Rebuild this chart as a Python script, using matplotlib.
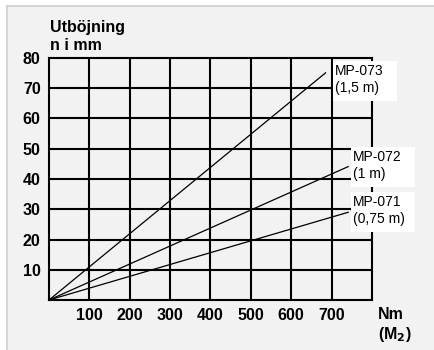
import matplotlib.pyplot as plt
from matplotlib.patches import Rectangle
from matplotlib.lines import Line2D

plt.rcParams['font.family'] = ['Liberation Sans', 'DejaVu Sans']

# data: torque (Nm) -> deflection (mm), straight lines from 0
models = ['MP-071', 'MP-072', 'MP-073']
lengths = ['(0,75 m)', '(1 m)', '(1,5 m)']
end_nm = [741, 741, 685]
end_mm = [29.0, 44.1, 75.1]
xticks = [100, 200, 300, 400, 500, 600, 700]
yticks = [10, 20, 30, 40, 50, 60, 70, 80]

W, H = 435, 350
fig = plt.figure(figsize=(W / 100, H / 100), dpi=100)
fig.patch.set_facecolor('white')

# light gray panel with a thin border on top and left
fig.patches.append(Rectangle((7 / W, 0), 1, 1 - 6 / H, transform=fig.transFigure,
                             facecolor='#f2f2f2', edgecolor='none', zorder=-2))
fig.lines.append(Line2D([7 / W, 1], [1 - 6 / H, 1 - 6 / H], transform=fig.transFigure,
                        color='#cfcfcf', lw=1.2, zorder=-1))
fig.lines.append(Line2D([7 / W, 7 / W], [0, 1 - 6 / H], transform=fig.transFigure,
                        color='#cfcfcf', lw=1.2, zorder=-1))

ax = fig.add_axes([49 / W, 50 / H, (372 - 49) / W, (300 - 58) / H])
ax.set_zorder(1)
ax.set_facecolor('none')
ax.set_xlim(0, 800)
ax.set_ylim(0, 80)

for x in range(100, 800, 100):
    ax.axvline(x, color='black', lw=1.5, zorder=1)
for y in range(10, 80, 10):
    ax.axhline(y, color='black', lw=1.5, zorder=1)
for s in ax.spines.values():
    s.set_linewidth(1.5)

ax.set_xticks(xticks)
ax.set_yticks(yticks)
ax.tick_params(length=0, labelsize=11.5, pad=6)
for lab in ax.get_xticklabels() + ax.get_yticklabels():
    lab.set_fontweight('bold')

for m, l, xe, ye in zip(models, lengths, end_nm, end_mm):
    ax.plot([0, xe], [0, ye], color='black', lw=0.9, zorder=2)

# label boxes
boxes = {'MP-073': (333, 61), 'MP-072': (351, 147), 'MP-071': (351, 192)}
for m, l in zip(models, lengths):
    bx, by = boxes[m]
    fig.patches.append(Rectangle((bx / W, 1 - (by + 40) / H), 64 / W, 40 / H,
                                 transform=fig.transFigure, facecolor='white',
                                 edgecolor='none', zorder=5))
    fig.text((bx + 2) / W, 1 - (by + 14) / H, m, fontsize=10, va='baseline', zorder=6)
    fig.text((bx + 2) / W, 1 - (by + 31) / H, l, fontsize=10, va='baseline', zorder=6)

fig.text(50 / W, 1 - 32 / H, 'Utböjning', fontsize=11.5, fontweight='bold', va='baseline')
fig.text(50 / W, 1 - 50 / H, 'n i mm', fontsize=11.5, fontweight='bold', va='baseline')
fig.text(378 / W, 1 - 319 / H, 'Nm', fontsize=11.5, fontweight='bold', va='baseline')
fig.text(378 / W, 1 - 339 / H, '(M$_\\mathbf{2}$)', fontsize=11.5, fontweight='bold', va='baseline')

fig.savefig('out.png', dpi=100)
